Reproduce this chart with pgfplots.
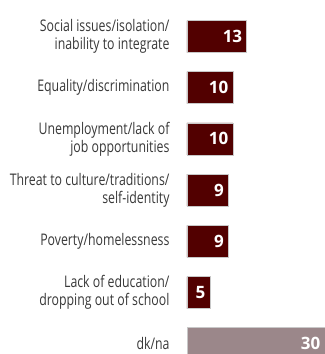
\documentclass[border=0pt]{standalone}
\usepackage{fontspec}
\setmainfont{Open Sans}[FakeStretch=0.77]
\newfontfamily\numfont{Open Sans}
\usepackage{pgfplots}
\pgfplotsset{compat=1.18}
\definecolor{maroon}{HTML}{520000}
\definecolor{dkna}{HTML}{9B878A}
\definecolor{labelgray}{HTML}{383838}
\definecolor{edge}{HTML}{C8C8C8}

\begin{document}
\begin{tikzpicture}
\begin{axis}[
    name=ax,
    xbar,
    scale only axis,
    width=138pt, height=354pt,
    xmin=0, xmax=30,
    ymin=-0.713, ymax=6.201,
    y dir=reverse,
    bar width=32pt,
    axis line style={draw=none},
    major tick length=0pt,
    xtick=\empty,
    ytick={0,...,6},
    yticklabels={
        {Social issues/isolation/\\inability to integrate},
        {Equality/discrimination},
        {Unemployment/lack of\\job opportunities},
        {Threat to culture/traditions/\\self-identity},
        {Poverty/homelessness},
        {Lack of education/\\dropping out of school},
        {dk/na}},
    yticklabel style={align=right, text=labelgray,
        font=\fontsize{16}{18}\selectfont, xshift=-14pt},
    nodes near coords,
    nodes near coords style={anchor=east, text=white, xshift=-1pt,
        font=\numfont\bfseries\fontsize{17}{17}\selectfont},
    /pgf/number format/assume math mode=true,
]
\addplot[bar shift=0pt, fill=maroon, draw=edge, line width=0.6pt]
    coordinates {(13,0) (10,1) (10,2) (9,3) (9,4) (5,5)};
\addplot[bar shift=0pt, fill=dkna, draw=edge, line width=0.6pt]
    coordinates {(30,6)};
\end{axis}
\pgfresetboundingbox
\path[use as bounding box] ([xshift=-187pt]ax.north west) rectangle (ax.south east);
\end{tikzpicture}
\end{document}
